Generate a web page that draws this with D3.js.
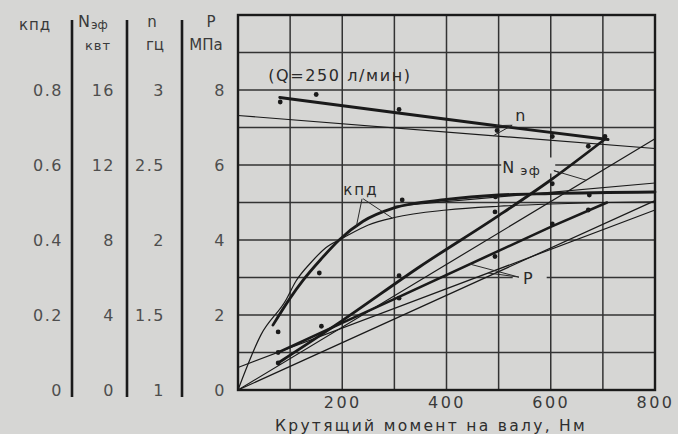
<!DOCTYPE html>
<html>
<head>
<meta charset="utf-8">
<script src="https://cdn.jsdelivr.net/npm/d3@7"></script>
<style>
  html, body { margin: 0; padding: 0; background: #d6d6d4; }
  svg { display: block; font-family: "DejaVu Sans", "Liberation Sans", sans-serif; }
</style>
</head>
<body>
<svg id="chart" width="678" height="434"></svg>
<script>
// ---------- data ----------
// x: torque on the shaft, N·m
const torqueTicks = [200, 400, 600, 800];

// left-hand scale tick values and labels
const kpdTicks = [0, 0.2, 0.4, 0.6, 0.8];
const kpdTickLabels = ["0", "0.2", "0.4", "0.6", "0.8"];
const nefTicks = [0, 4, 8, 12, 16];          // Nэф, kW
const nTicks = [1, 1.5, 2, 2.5, 3];          // n, Hz
const nTickLabels = ["1", "1.5", "2", "2.5", "3"];
const pTicks = [0, 2, 4, 6, 8];              // P, MPa

// n (speed, Hz) — experimental (thick) line and measured points
const nTorque = [80, 300, 500, 710];
const nValues = [2.95, 2.85, 2.76, 2.67];
const nDotTorque = [81, 150, 309, 497, 603, 704];
const nDotValues = [2.92, 2.97, 2.87, 2.73, 2.69, 2.69];
// n — calculated (thin) line
const nThinTorque = [0, 800];
const nThinValues = [2.83, 2.61];

// Nэф (effective power, kW)
const nefTorque = [77, 200, 350, 500, 600, 705];
const nefValues = [1.44, 3.7, 6.6, 9.3, 11.2, 13.4];
const nefDotTorque = [77, 309, 493, 603, 672];
const nefDotValues = [1.44, 6.1, 9.5, 11.0, 13.0];
const nefThinTorque = [0, 800];
const nefThinValues = [0, 13.4];

// КПД (efficiency)
const kpdTorque = [67, 100, 125, 160, 194, 240, 298, 400, 500, 600, 800];
const kpdValues = [0.173, 0.245, 0.293, 0.35, 0.40, 0.45, 0.485, 0.508, 0.52, 0.524, 0.528];
const kpdDotTorque = [77, 156, 315, 494, 674];
const kpdDotValues = [0.155, 0.312, 0.507, 0.515, 0.52];
const kpdThinTorque = [0, 44, 92, 111, 140, 169, 201, 250, 300, 400, 500, 600, 700, 800];
const kpdThinValues = [0, 0.147, 0.24, 0.29, 0.34, 0.38, 0.405, 0.44, 0.46, 0.48, 0.49, 0.496, 0.5, 0.502];
const kpdThin2Torque = [300, 800];
const kpdThin2Values = [0.49, 0.552];

// P (pressure, MPa)
const pTorque = [77, 200, 310, 500, 600, 708];
const pValues = [1.0, 1.79, 2.49, 3.71, 4.35, 5.0];
const pDotTorque = [77, 160, 309, 493, 603, 672];
const pDotValues = [1.0, 1.7, 2.45, 3.56, 4.43, 4.8];
const pThinTorque = [0, 800];
const pThinValues = [0.6, 4.8];
const pThin2Torque = [0, 800];
const pThin2Values = [0, 5.05];

// ---------- layout ----------
const svg = d3.select("#chart");
const W = 678, H = 434;
const plot = { left: 238, right: 655, top: 15, bottom: 390 };
const ink = "#1a1a1a";
const bg = "#d6d6d4";

const x = d3.scaleLinear().domain([0, 800]).range([plot.left, plot.right]);
const yP = d3.scaleLinear().domain([0, 10]).range([plot.bottom, plot.top]);
const yK = d3.scaleLinear().domain([0, 1]).range([plot.bottom, plot.top]);
const yN = d3.scaleLinear().domain([0, 20]).range([plot.bottom, plot.top]);
const yn = d3.scaleLinear().domain([1, 3.5]).range([plot.bottom, plot.top]);

svg.append("rect").attr("width", W).attr("height", H).attr("fill", bg);

// grid
const grid = svg.append("g").attr("stroke", "#333").attr("stroke-width", 1.5);
grid.selectAll("line.v").data(d3.range(100, 800, 100)).join("line")
  .attr("x1", d => x(d)).attr("x2", d => x(d))
  .attr("y1", plot.top).attr("y2", plot.bottom);
grid.selectAll("line.h").data(d3.range(1, 10, 1)).join("line")
  .attr("y1", d => yP(d)).attr("y2", d => yP(d))
  .attr("x1", plot.left).attr("x2", plot.right);

// frame
svg.append("rect")
  .attr("x", plot.left).attr("y", plot.top)
  .attr("width", plot.right - plot.left).attr("height", plot.bottom - plot.top)
  .attr("fill", "none").attr("stroke", ink).attr("stroke-width", 2.4);

// left-hand separators
[72, 127, 182].forEach(sx => {
  svg.append("line").attr("x1", sx).attr("x2", sx).attr("y1", 20).attr("y2", 397)
    .attr("stroke", ink).attr("stroke-width", 2.6);
});

// left-hand axes
function leftAxis(scale, ticks, labels, xpos) {
  const ax = d3.axisLeft(scale).tickValues(ticks).tickSize(0).tickPadding(0);
  if (labels) ax.tickFormat((d, i) => labels[i]);
  const g = svg.append("g").attr("transform", `translate(${xpos},0)`).call(ax);
  g.select(".domain").remove();
  g.selectAll("text").attr("fill", "#4e4e4e").style("font-size", "16px")
    .style("letter-spacing", "1.5px")
    .style("font-family", '"DejaVu Sans", sans-serif');
  return g;
}
leftAxis(yK, kpdTicks, kpdTickLabels, 63);
leftAxis(yN, nefTicks, null, 115);
leftAxis(yn, nTicks, nTickLabels, 165);
leftAxis(yP, pTicks, null, 226);

// headers
const hdr = svg.append("g").attr("fill", "#3a3a3a").style("font-size", "15px");
hdr.append("text").attr("x", 35).attr("y", 30).attr("text-anchor", "middle")
  .style("letter-spacing", "1px").text("кпд");
const nh = hdr.append("text").attr("x", 78).attr("y", 27);
nh.append("tspan").text("N").style("font-size", "16px");
nh.append("tspan").attr("dy", 2).attr("dx", 1).text("эф").style("font-size", "12px");
hdr.append("text").attr("x", 98).attr("y", 50).attr("text-anchor", "middle")
  .style("font-size", "13px").style("letter-spacing", "1px").text("квт");
hdr.append("text").attr("x", 152).attr("y", 27).attr("text-anchor", "middle").text("n");
hdr.append("text").attr("x", 155).attr("y", 50).attr("text-anchor", "middle").text("гц");
hdr.append("text").attr("x", 211).attr("y", 27).attr("text-anchor", "middle").text("P");
hdr.append("text").attr("x", 206).attr("y", 50).attr("text-anchor", "middle").text("МПа");

// bottom axis
const bx = svg.append("g").attr("transform", `translate(0,${plot.bottom})`)
  .call(d3.axisBottom(x).tickValues(torqueTicks).tickSize(0).tickPadding(7));
bx.select(".domain").remove();
bx.selectAll("text").attr("fill", "#3a3a3a").style("font-size", "16px")
  .style("letter-spacing", "2.5px").style("font-family", '"DejaVu Sans", sans-serif');
svg.append("text").attr("x", 431).attr("y", 431).attr("text-anchor", "middle")
  .attr("fill", "#2e2e2e").style("font-size", "15.5px").style("letter-spacing", "2.3px")
  .text("Крутящий момент на валу, Нм");

// ---------- curves ----------
const curves = svg.append("g").attr("fill", "none").attr("stroke", ink)
  .attr("stroke-linecap", "round").attr("stroke-linejoin", "round");
function drawLine(ms, vs, yScale, width, curve) {
  const pts = ms.map((m, i) => [m, vs[i]]);
  const gen = d3.line().x(d => x(d[0])).y(d => yScale(d[1])).curve(curve || d3.curveLinear);
  curves.append("path").attr("d", gen(pts)).attr("stroke-width", width);
}
// thin (calculated) lines
drawLine(nThinTorque, nThinValues, yn, 1.2);
drawLine(nefThinTorque, nefThinValues, yN, 1.2);
drawLine(kpdThinTorque, kpdThinValues, yK, 1.2, d3.curveMonotoneX);
drawLine(kpdThin2Torque, kpdThin2Values, yK, 1.2);
drawLine(pThinTorque, pThinValues, yP, 1.2);
drawLine(pThin2Torque, pThin2Values, yP, 1.2);
// thick (experimental) lines
drawLine(nTorque, nValues, yn, 2.8);
drawLine(nefTorque, nefValues, yN, 2.8, d3.curveMonotoneX);
drawLine(kpdTorque, kpdValues, yK, 2.8, d3.curveMonotoneX);
drawLine(pTorque, pValues, yP, 2.6);

// measured points
const dots = svg.append("g").attr("fill", ink);
function drawDots(ms, vs, yScale) {
  dots.selectAll(null).data(ms.map((m, i) => [m, vs[i]])).join("circle")
    .attr("cx", d => x(d[0])).attr("cy", d => yScale(d[1])).attr("r", 2.4);
}
drawDots(nDotTorque, nDotValues, yn);
drawDots(nefDotTorque, nefDotValues, yN);
drawDots(kpdDotTorque, kpdDotValues, yK);
drawDots(pDotTorque, pDotValues, yP);

// ---------- annotations ----------
function interp(ms, vs, m) { return d3.scaleLinear().domain(ms).range(vs).clamp(true)(m); }
const ann = svg.append("g").style("font-size", "15px").attr("fill", "#2a2a2a");
const lead = svg.append("g").attr("stroke", "#2a2a2a").attr("stroke-width", 1).attr("fill", "none");
function leader(fromM, fromP, toM, toV, yScale) {
  lead.append("line").attr("x1", x(fromM)).attr("y1", yP(fromP))
    .attr("x2", x(toM)).attr("y2", yScale(toV));
}

// (Q=250 л/мин)
ann.append("text").attr("x", x(58)).attr("y", yP(8.24)).style("font-size", "16px")
  .style("letter-spacing", "1.6px").text("(Q=250 л/мин)");

// n label
ann.append("text").attr("x", x(532)).attr("y", yP(7.17)).style("font-size", "16px").text("n");
leader(526, 7.06, 495, interp(nTorque, nValues, 495), yn);
leader(526, 7.06, 490, interp(nThinTorque, nThinValues, 490), yn);

// Nэф label (on a gap in the grid line)
ann.append("rect").attr("x", x(505)).attr("y", yP(6.2)).attr("width", 54).attr("height", 16).attr("fill", bg);
const nl = ann.append("text").attr("x", x(507)).attr("y", yP(5.79));
nl.append("tspan").text("N").style("font-size", "16px");
nl.append("tspan").attr("dx", 6).attr("dy", 2).text("эф").style("font-size", "13px")
  .style("letter-spacing", "1.5px");
leader(606, 5.85, 618, interp(nefTorque, nefValues, 618), yN);
leader(606, 5.85, 668, interp(nefThinTorque, nefThinValues, 668), yN);

// кпд label
ann.append("text").attr("x", x(202)).attr("y", yP(5.2)).style("font-size", "15px")
  .style("letter-spacing", "2px").text("кпд");
leader(238, 5.1, 227, interp(kpdTorque, kpdValues, 227), yK);
leader(240, 5.1, 296, interp(kpdThinTorque, kpdThinValues, 296), yK);

// P label (on a gap in the grid line)
ann.append("rect").attr("x", x(527)).attr("y", yP(3.3)).attr("width", 34).attr("height", 14).attr("fill", bg);
ann.append("text").attr("x", x(547)).attr("y", yP(2.83)).style("font-size", "16px").text("P");
leader(539, 3.01, 445, interp(pTorque, pValues, 445), yP);
leader(539, 3.01, 480, interp(pThinTorque, pThinValues, 480), yP);
</script>
</body>
</html>
